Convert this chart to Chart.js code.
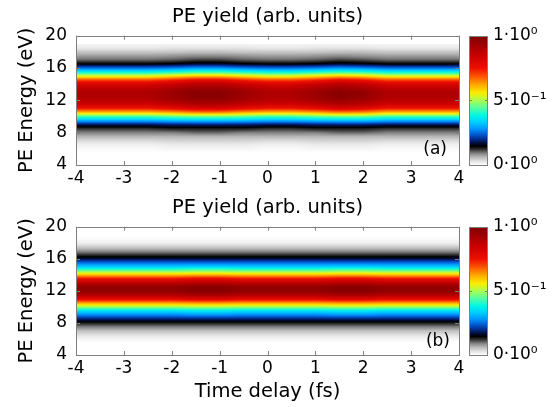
<!DOCTYPE html>
<html>
<head>
<meta charset="utf-8">
<script src="https://cdn.jsdelivr.net/npm/chart.js@4.4.0/dist/chart.umd.min.js"></script>
<style>
  body { margin: 0; background: #fff; }
  #wrap { position: relative; width: 555px; height: 407px; }
  canvas { position: absolute; left: 0; }
</style>
</head>
<body>
<div id="wrap">
  <canvas id="chartA" width="555" height="190" style="top:0"></canvas>
  <canvas id="chartB" width="555" height="217" style="top:190px"></canvas>
</div>
<script>
// time delay (fs) of each column, energy (eV) of each row (top to bottom)
const delays = [-4, -3.5, -3, -2.5, -2, -1.5, -1, -0.5, 0, 0.5, 1, 1.5, 2, 2.5, 3, 3.5, 4];
const energies = [19, 18.5, 18, 17.5, 17, 16.5, 16, 15.5, 15, 14.5, 14, 13.5, 13, 12.5,
                  12, 11.5, 11, 10.5, 10, 9.5, 9, 8.5, 8, 7.5, 7, 6.5, 6, 5.5];

// panel (a) spectra
const colA0 = [0.01, 0.02, 0.05, 0.075, 0.10, 0.145, 0.25, 0.38, 0.54, 0.70, 0.81, 0.87, 0.90, 0.905,
               0.88, 0.83, 0.74, 0.60, 0.43, 0.30, 0.18, 0.12, 0.09, 0.06, 0.035, 0.015, 0.005, 0];
const colA1 = [0.01, 0.025, 0.05, 0.08, 0.105, 0.15, 0.26, 0.40, 0.57, 0.73, 0.84, 0.91, 0.94, 0.94,
               0.92, 0.86, 0.77, 0.62, 0.45, 0.31, 0.19, 0.13, 0.09, 0.06, 0.04, 0.02, 0.01, 0];
const colA12 = [0.01, 0.025, 0.055, 0.08, 0.11, 0.155, 0.27, 0.41, 0.58, 0.75, 0.86, 0.92, 0.96, 0.96,
                0.93, 0.88, 0.78, 0.64, 0.46, 0.32, 0.19, 0.13, 0.10, 0.06, 0.04, 0.02, 0.01, 0];
const colA2 = [0.01, 0.025, 0.055, 0.085, 0.115, 0.165, 0.28, 0.42, 0.60, 0.77, 0.88, 0.94, 0.98, 0.98,
               0.95, 0.90, 0.80, 0.65, 0.46, 0.32, 0.19, 0.13, 0.10, 0.06, 0.04, 0.02, 0.01, 0];
const yieldA = [colA0, colA0, colA0, colA0, colA1, colA2, colA2, colA1, colA0,
                colA0, colA1, colA2, colA12, colA0, colA0, colA0, colA0];

// panel (b)
const colB0 = [0, 0.005, 0.015, 0.045, 0.08, 0.12, 0.17, 0.25, 0.33, 0.46, 0.60, 0.75, 0.87, 0.96,
               0.97, 0.90, 0.78, 0.63, 0.49, 0.35, 0.27, 0.19, 0.13, 0.09, 0.055, 0.03, 0.01, 0];
const colB1 = [0, 0.005, 0.015, 0.045, 0.08, 0.12, 0.17, 0.25, 0.34, 0.47, 0.61, 0.77, 0.89, 0.98,
               0.99, 0.92, 0.80, 0.64, 0.50, 0.36, 0.28, 0.19, 0.13, 0.09, 0.055, 0.03, 0.01, 0];
const yieldB = [colB0, colB0, colB0, colB0, colB0, colB1, colB1, colB0, colB0,
                colB0, colB0, colB1, colB1, colB0, colB0, colB0, colB0];

const cbTicks = [0, 0.5, 1];
const cbLabels = ['0·10⁰', '5·10⁻¹', '1·10⁰'];

// palette: white -> grey -> black -> blue -> cyan -> yellow -> red -> dark red
const palette = [
  [0.00, 255, 255, 255], [0.03, 225, 225, 225], [0.06, 185, 185, 185], [0.09, 130, 130, 130],
  [0.12, 50, 50, 50], [0.145, 0, 0, 0], [0.165, 0, 10, 50], [0.20, 0, 45, 140], [0.23, 0, 80, 200],
  [0.28, 0, 150, 255], [0.33, 0, 205, 255], [0.38, 0, 245, 230], [0.44, 80, 255, 160],
  [0.50, 170, 255, 80], [0.56, 255, 235, 0], [0.62, 255, 170, 0], [0.68, 255, 90, 0],
  [0.75, 235, 15, 0], [0.85, 200, 0, 0], [1.00, 128, 0, 0]
];

function colorOf(v) {
  v = Math.max(0, Math.min(1, v));
  for (let k = 1; k < palette.length; k++) {
    if (v <= palette[k][0]) {
      const a = palette[k - 1], b = palette[k];
      const f = (v - a[0]) / (b[0] - a[0]);
      return [a[1] + (b[1] - a[1]) * f, a[2] + (b[2] - a[2]) * f, a[3] + (b[3] - a[3]) * f];
    }
  }
  return palette[palette.length - 1].slice(1);
}

function sample(grid, t, e) {
  const n = energies.length;
  if (e > energies[0] || e < energies[n - 1]) return 0;
  let j = 0;
  while (j < delays.length - 2 && t > delays[j + 1]) j++;
  let fx = (t - delays[j]) / (delays[j + 1] - delays[j]);
  fx = Math.max(0, Math.min(1, fx));
  let i = 0;
  while (i < n - 2 && e < energies[i + 1]) i++;
  const fy = (energies[i] - e) / (energies[i] - energies[i + 1]);
  const c0 = grid[j], c1 = grid[j + 1];
  const v0 = c0[i] * (1 - fy) + c0[i + 1] * fy;
  const v1 = c1[i] * (1 - fy) + c1[i + 1] * fy;
  return v0 * (1 - fx) + v1 * fx;
}

const heatmapPlugin = {
  id: 'heatmap',
  beforeDatasetsDraw(chart, args, opts) {
    const {ctx, chartArea: a, scales: {x, y}} = chart;
    const x0 = Math.round(a.left), y0 = Math.round(a.top);
    const w = Math.round(a.right) - x0, h = Math.round(a.bottom) - y0;
    const img = ctx.createImageData(w, h);
    for (let py = 0; py < h; py++) {
      const e = y.getValueForPixel(y0 + py + 0.5);
      for (let px = 0; px < w; px++) {
        const t = x.getValueForPixel(x0 + px + 0.5);
        const c = colorOf(sample(opts.grid, t, e));
        const k = (py * w + px) * 4;
        img.data[k] = c[0]; img.data[k + 1] = c[1]; img.data[k + 2] = c[2]; img.data[k + 3] = 255;
      }
    }
    ctx.putImageData(img, x0, y0);
  },
  afterDraw(chart, args, opts) {
    const {ctx, chartArea: a, scales: {x, y, cb}} = chart;
    ctx.save();
    ctx.strokeStyle = '#7f7f7f';
    ctx.lineWidth = 1;
    ctx.beginPath();
    x.ticks.forEach(t => {
      const px = Math.round(x.getPixelForValue(t.value)) + 0.5;
      ctx.moveTo(px, a.top); ctx.lineTo(px, a.top + 4);
      ctx.moveTo(px, a.bottom); ctx.lineTo(px, a.bottom - 4);
    });
    y.ticks.forEach(t => {
      const py = Math.round(y.getPixelForValue(t.value)) + 0.5;
      ctx.moveTo(a.left, py); ctx.lineTo(a.left + 4, py);
      ctx.moveTo(a.right, py); ctx.lineTo(a.right - 4, py);
    });
    ctx.stroke();
    ctx.strokeRect(Math.round(a.left) + 0.5, Math.round(a.top) + 0.5,
                   Math.round(a.right) - Math.round(a.left), Math.round(a.bottom) - Math.round(a.top));

    // colour bar
    const bx = Math.round(cb.left) + 10, bw = 19;
    const by = Math.round(cb.top), bh = Math.round(cb.bottom) - by;
    const img = ctx.createImageData(bw, bh);
    for (let py = 0; py < bh; py++) {
      const c = colorOf(cb.getValueForPixel(by + py + 0.5));
      for (let px = 0; px < bw; px++) {
        const k = (py * bw + px) * 4;
        img.data[k] = c[0]; img.data[k + 1] = c[1]; img.data[k + 2] = c[2]; img.data[k + 3] = 255;
      }
    }
    ctx.putImageData(img, bx, by);
    ctx.beginPath();
    cb.ticks.forEach(t => {
      if (t.value <= 0 || t.value >= 1) return;
      const py = Math.round(cb.getPixelForValue(t.value)) + 0.5;
      ctx.moveTo(bx, py); ctx.lineTo(bx + 3, py);
      ctx.moveTo(bx + bw, py); ctx.lineTo(bx + bw - 3, py);
    });
    ctx.stroke();
    ctx.strokeRect(bx + 0.5, by + 0.5, bw - 1, bh);

    // panel tag
    ctx.fillStyle = '#000';
    ctx.font = '17px "DejaVu Sans"';
    ctx.textAlign = 'right';
    ctx.textBaseline = 'alphabetic';
    ctx.fillText(opts.tag, a.right - opts.tagDx, a.bottom - opts.tagDy);
    ctx.restore();
  }
};

Chart.defaults.font.family = '"DejaVu Sans"';
Chart.defaults.font.size = 17;
Chart.defaults.color = '#000';

// keep the plot box exactly where the axes say, ignoring label overhang
function noOverhang(s) {
  s.paddingTop = 0; s.paddingBottom = 0; s.paddingLeft = 0; s.paddingRight = 0;
}

function makePanel(id, grid, tag, tagDx, tagDy, titlePad, xHeight, showXTitle) {
  return new Chart(document.getElementById(id), {
    type: 'scatter',
    data: { datasets: [] },
    plugins: [heatmapPlugin],
    options: {
      responsive: false,
      animation: false,
      layout: { padding: 0 },
      plugins: {
        legend: { display: false },
        tooltip: { enabled: false },
        title: {
          display: true,
          text: 'PE yield (arb. units)',
          fullSize: false,
          font: { size: 19.5, weight: 'normal' },
          padding: titlePad
        },
        heatmap: { grid: grid, tag: tag, tagDx: tagDx, tagDy: tagDy }
      },
      scales: {
        x: {
          type: 'linear', min: -4, max: 4,
          ticks: { stepSize: 1, padding: 3 },
          grid: { display: false, drawTicks: false },
          border: { display: false },
          title: { display: showXTitle, text: 'Time delay (fs)', font: { size: 19.5 }, padding: { top: 0, bottom: 3 } },
          afterFit: s => { s.height = xHeight; noOverhang(s); }
        },
        y: {
          type: 'linear', min: 4, max: 20,
          ticks: { stepSize: 4, padding: 9 },
          grid: { display: false, drawTicks: false },
          border: { display: false },
          title: { display: true, text: 'PE Energy (eV)', font: { size: 19.5 }, padding: { top: 15, bottom: 0 } },
          afterFit: s => { s.width = 76; noOverhang(s); }
        },
        cb: {
          type: 'linear', position: 'right', min: 0, max: 1,
          afterBuildTicks: s => { s.ticks = cbTicks.map(v => ({ value: v })); },
          ticks: { padding: 34, callback: v => cbLabels[cbTicks.indexOf(v)] },
          grid: { display: false, drawTicks: false },
          border: { display: false },
          afterFit: s => { s.width = 96; noOverhang(s); }
        }
      }
    }
  });
}

makePanel('chartA', yieldA, '(a)', 12, 11, { top: 5.3, bottom: 7 }, 25, false);
makePanel('chartB', yieldB, '(b)', 9, 9, { top: 6.3, bottom: 7 }, 52, true);
</script>
</body>
</html>
